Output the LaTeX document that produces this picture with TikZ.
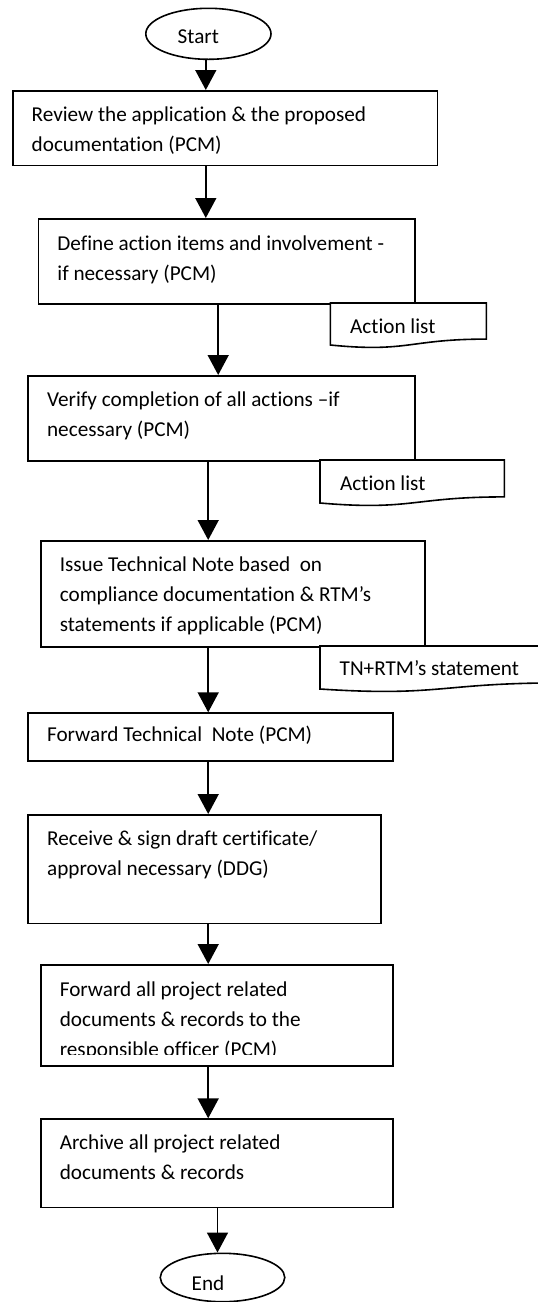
\documentclass[tikz,border=0pt]{standalone}
\usepackage{fontspec}
\setmainfont{Carlito}[Ligatures={NoCommon,NoRare},Contextuals=NoAlternate]
\usetikzlibrary{arrows.meta,shapes.geometric,calc}
\newcommand{\flowfont}{\fontsize{21.2}{30}\selectfont}
\tikzset{
  box/.style={draw, line width=1.6pt, rectangle, anchor=north west, inner sep=0pt},
  txt/.style={anchor=north west, inner sep=0pt, align=left, font=\flowfont},
  lbl/.style={anchor=base west, inner sep=0pt, font=\flowfont},
  arr/.style={line width=1.6pt, -{Triangle[width=21pt,length=20pt]}},
  term/.style={draw, ellipse, line width=1.6pt, inner sep=0pt},
  docshape/.style={draw, line width=1.6pt, fill=white},
}
\begin{document}
\begin{tikzpicture}[x=1pt,y=-1pt]
\useasboundingbox (0,0) rectangle (538,1302);
\clip (0,0) rectangle (538,1302);
\fill[white] (0,0) rectangle (538,1302);

% terminals
\node[term, minimum width=125.2pt, minimum height=51pt] (start) at (208.4,33.8) {};
\node[lbl] (tstart) at (177.5,43.3) {Start};
\node[term, minimum width=124.5pt, minimum height=48.4pt] (stop) at (222.5,1277.5) {};
\node[lbl] (tstop) at (191.5,1290) {End};

% process boxes
\node[box, minimum width=424.7pt, minimum height=74.7pt] (b1) at (12,90) {};
\node[txt] (t1) at ($(b1.north west)+(19.5,10.7)$) {\strut Review the application \& the proposed\\documentation (PCM)};

\node[box, minimum width=376.7pt, minimum height=85pt] (b2) at (37.7,218) {};
\node[txt] (t2) at ($(b2.north west)+(19.5,11)$) {\strut Define action items and involvement -\\if necessary (PCM)};

\node[box, minimum width=387pt, minimum height=85pt] (b3) at (27.4,375) {};
\node[txt] (t3) at ($(b3.north west)+(19.5,10)$) {\strut Verify completion of all actions –if\\necessary (PCM)};

\node[box, minimum width=384.3pt, minimum height=106pt] (b4) at (40.1,540) {};
\node[txt] (t4) at ($(b4.north west)+(19.5,10.7)$) {\strut Issue Technical Note based\ \ on\\compliance documentation \& RTM’s\\statements if applicable (PCM)};

\node[box, minimum width=364.6pt, minimum height=47.7pt] (b5) at (27.4,712.3) {};
\node[txt] (t5) at ($(b5.north west)+(19.5,8.4)$) {\strut Forward Technical\ \ Note (PCM)};

\node[box, minimum width=352.6pt, minimum height=108.7pt] (b6) at (27.4,814) {};
\node[txt] (t6) at ($(b6.north west)+(19.5,10)$) {\strut Receive \& sign draft certificate/\\approval necessary (DDG)};

\node[box, minimum width=351.9pt, minimum height=101pt] (b7) at (40.1,964) {};
\begin{scope}
\clip (40,960) rectangle (392,1054.5);
\node[txt] (t7) at ($(b7.north west)+(19.5,11)$) {\strut Forward all project related\\documents \& records to the\\responsible officer (PCM)};
\end{scope}

\node[box, minimum width=351.9pt, minimum height=88.4pt] (b8) at (40.1,1118.3) {};
\node[txt] (t8) at ($(b8.north west)+(19.5,10)$) {\strut Archive all project related\\documents \& records};

% documents
\draw[docshape] (330.4,303) -- (486.4,303) -- (486.4,339.1) .. controls (408.4,339.1) and (408.4,352.8) .. (330.4,345) -- cycle;
\node[lbl] (d1) at (350,333.3) {Action list};
\draw[docshape] (320,460) -- (504.3,460) -- (504.3,496.9) .. controls (412.2,496.9) and (412.2,510.9) .. (320,503) -- cycle;
\node[lbl] (d2) at (340,490) {Action list};
\draw[docshape] (320,646) -- (560,646) -- (560,682.9) .. controls (440,682.9) and (440,696.9) .. (320,689) -- cycle;
\node[lbl] (d3) at (339.5,675) {TN+RTM’s statement};

% connector x positions
\coordinate (xa) at (205.8,0);
\coordinate (xb) at (218.2,0);
\coordinate (xc) at (208.2,0);
\coordinate (xd) at (217.5,0);

\draw[arr] (start.south -| xa) -- (b1.north -| xa);
\draw[arr] (b1.south -| xa) -- (b2.north -| xa);
\draw[arr] (b2.south -| xb) -- (b3.north -| xb);
\draw[arr] (b3.south -| xc) -- (b4.north -| xc);
\draw[arr] (b4.south -| xc) -- (b5.north -| xc);
\draw[arr] (b5.south -| xc) -- (b6.north -| xc);
\draw[arr] (b6.south -| xc) -- (b7.north -| xc);
\draw[arr] (b7.south -| xc) -- (b8.north -| xc);
\draw[arr] (b8.south -| xd) -- (stop.north -| xd);
\end{tikzpicture}
\end{document}
